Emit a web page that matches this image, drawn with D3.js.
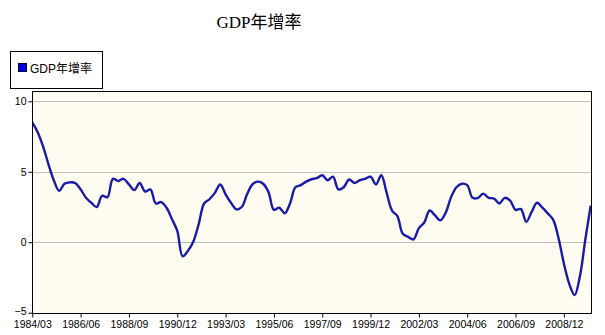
<!DOCTYPE html>
<html>
<head>
<meta charset="utf-8">
<script src="https://cdn.jsdelivr.net/npm/d3@7/dist/d3.min.js"></script>
<style>
  html, body { margin: 0; padding: 0; background: #ffffff; }
  svg { display: block; }
</style>
</head>
<body>
<svg id="chart" width="605" height="335"></svg>
<script>
// Chart title and series name
const chartTitle = "GDP年增率";
const seriesName = "GDP年增率";

// Quarterly periods 1984 Q1 .. 2010 Q1, labelled YYYY/MM (quarter-end month)
const firstYear = 1984;
const quarterCount = 105;
const quarterMonths = ["03", "06", "09", "12"];
const quarters = [];
for (let i = 0; i < quarterCount; i++) {
  quarters.push((firstYear + Math.floor(i / 4)) + "/" + quarterMonths[i % 4]);
}

// Year-over-year GDP growth (%) per quarter
const growth = [
  8.5, 7.8, 6.8, 5.55, 4.4, 3.65, 4.15, 4.25, 4.2, 3.75,
  3.15, 2.8, 2.5, 3.3, 3.2, 4.5, 4.35, 4.5, 4.1, 3.7,
  4.2, 3.6, 3.75, 2.75, 2.85, 2.45, 1.65, 0.8, -1.0, -0.6,
  0.05, 1.3, 2.75, 3.05, 3.5, 4.1, 3.4, 2.8, 2.33, 2.5,
  3.4, 4.1, 4.3, 4.15, 3.55, 2.3, 2.45, 2.05, 2.75, 3.9,
  4.05, 4.3, 4.47, 4.55, 4.75, 4.4, 4.65, 3.75, 3.9, 4.45,
  4.2, 4.4, 4.5, 4.65, 4.1, 4.75, 3.5, 2.25, 1.85, 0.6,
  0.38, 0.2, 1.0, 1.4, 2.25, 1.9, 1.55, 2.1, 3.2, 3.9,
  4.15, 4.05, 3.15, 3.15, 3.45, 3.15, 3.1, 2.75, 3.15, 2.95,
  2.3, 2.35, 1.45, 2.15, 2.8, 2.45, 2.05, 1.6, 0.3, -1.5,
  -2.95, -3.75, -2.4, 0.2, 2.6
];

// Axis ticks
const xTickLabels = ["1984/03", "1986/06", "1988/09", "1990/12", "1993/03", "1995/06",
                     "1997/09", "1999/12", "2002/03", "2004/06", "2006/09", "2008/12"];
const yTicks = [-5, 0, 5, 10];
const gridValues = [0, 5, 10];

const data = quarters.map((q, i) => ({ q: q, v: growth[i] }));

const svg = d3.select("#chart");

// Plot frame
const plotLeft = 32.3, plotRight = 590.7, plotTop = 91, plotBottom = 312.7;

const x = d3.scalePoint().domain(quarters).range([plotLeft, plotRight]).padding(0);
const y = d3.scaleLinear().domain([-5, 10]).range([plotBottom, 101.3]);

// Title
svg.append("text")
  .attr("x", 259).attr("y", 28)
  .attr("text-anchor", "middle")
  .style("font-family", "'Liberation Serif', 'Times New Roman', 'Noto Sans CJK TC', serif")
  .style("font-size", "17px")
  .attr("fill", "#000")
  .text(chartTitle);

// Legend
const legend = svg.append("g");
legend.append("rect")
  .attr("x", 10.5).attr("y", 51.5).attr("width", 92).attr("height", 37)
  .attr("fill", "#fff").attr("stroke", "#000").attr("stroke-width", 1);
legend.append("rect")
  .attr("x", 18.5).attr("y", 63.5).attr("width", 8).attr("height", 8)
  .attr("fill", "#0000e0").attr("stroke", "#000040").attr("stroke-width", 1);
legend.append("text")
  .attr("x", 30).attr("y", 72.5)
  .style("font-family", "'Liberation Sans', Arial, 'Noto Sans CJK TC', sans-serif")
  .style("font-size", "12px")
  .attr("fill", "#000")
  .text(seriesName);

// Plot background
svg.append("rect")
  .attr("x", plotLeft).attr("y", plotTop)
  .attr("width", plotRight - plotLeft).attr("height", plotBottom - plotTop)
  .attr("fill", "#fffdf2");

// Gridlines
svg.append("g").selectAll("line").data(gridValues).join("line")
  .attr("x1", plotLeft).attr("x2", plotRight)
  .attr("y1", d => Math.round(y(d)) + 0.5).attr("y2", d => Math.round(y(d)) + 0.5)
  .attr("stroke", "#c0c0c0").attr("stroke-width", 1);

// Series line
const line = d3.line()
  .x(d => x(d.q))
  .y(d => y(d.v))
  .curve(d3.curveCatmullRom.alpha(0.5));

svg.append("defs").append("clipPath").attr("id", "plotClip")
  .append("rect")
  .attr("x", plotLeft).attr("y", plotTop)
  .attr("width", plotRight - plotLeft + 1).attr("height", plotBottom - plotTop);

svg.append("path")
  .datum(data)
  .attr("clip-path", "url(#plotClip)")
  .attr("fill", "none")
  .attr("stroke", "#1a1aa8")
  .attr("stroke-width", 2.4)
  .attr("stroke-linejoin", "round")
  .attr("d", line);

// Frame
svg.append("rect")
  .attr("x", Math.round(plotLeft) + 0.5).attr("y", plotTop + 0.5)
  .attr("width", Math.round(plotRight) - Math.round(plotLeft)).attr("height", Math.round(plotBottom) - plotTop)
  .attr("fill", "none").attr("stroke", "#000").attr("stroke-width", 1);

// Axes
const tickFont = "'Liberation Sans', Arial, sans-serif";

const yAxis = d3.axisLeft(y).tickValues(yTicks).tickSize(4).tickPadding(2).tickFormat(d3.format("d"));
const gy = svg.append("g")
  .attr("transform", `translate(${Math.round(plotLeft) + 0.5},0)`)
  .call(yAxis);
gy.select(".domain").remove();
gy.selectAll("line").attr("stroke", "#000");
gy.selectAll("text")
  .style("font-family", tickFont).style("font-size", "10.5px").attr("fill", "#000");
// keep the lowest value label clear of the first date label
gy.selectAll(".tick").filter(d => d === -5).select("text").attr("dy", "0.2em");

const xAxis = d3.axisBottom(x).tickValues(xTickLabels).tickSize(4).tickPadding(3);
const gx = svg.append("g")
  .attr("transform", `translate(0,${Math.round(plotBottom) + 0.5})`)
  .call(xAxis);
gx.select(".domain").remove();
gx.selectAll("line").attr("stroke", "#000");
gx.selectAll("text")
  .style("font-family", tickFont).style("font-size", "10.5px").attr("fill", "#000");
</script>
</body>
</html>
